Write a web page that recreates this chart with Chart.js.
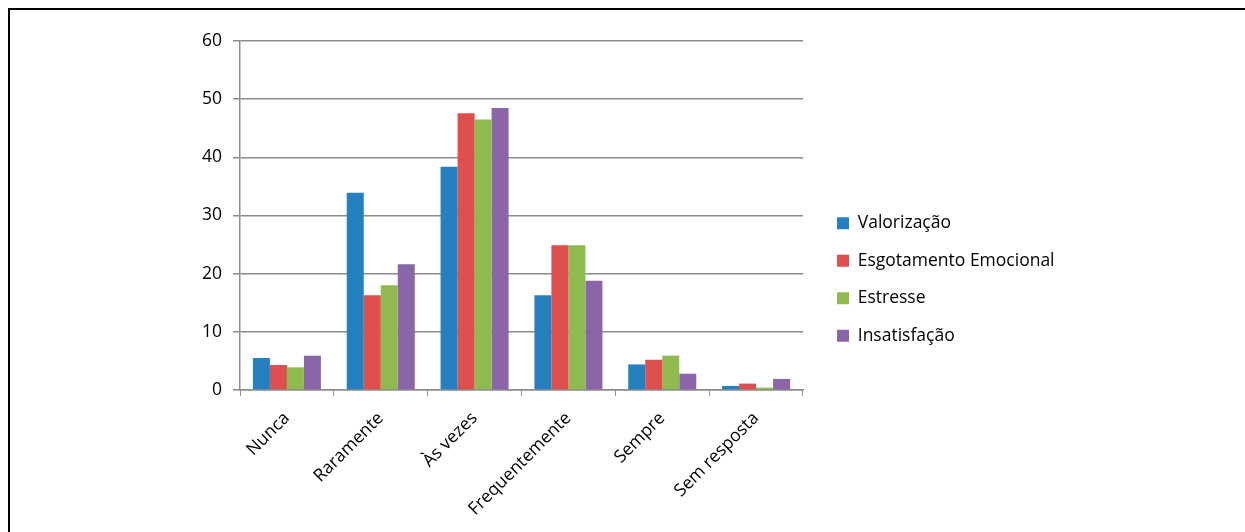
<!DOCTYPE html>
<html>
<head>
<meta charset="utf-8">
<script src="https://cdn.jsdelivr.net/npm/chart.js@4/dist/chart.umd.min.js"></script>
<style>
  html, body { margin: 0; padding: 0; background: #fff; overflow: hidden; }
  #frame { position: absolute; left: 8px; top: 8px; width: 1400px; height: 700px; border: 2px solid #000; }
  #wrap { position: absolute; left: 0; top: 0; width: 1245px; height: 532px; }
</style>
</head>
<body>
<div id="frame"></div>
<div id="wrap"><canvas id="chart" width="1245" height="532"></canvas></div>
<script>
// categories and series
const categories = ['Nunca', 'Raramente', 'Às vezes', 'Frequentemente', 'Sempre', 'Sem resposta'];
const valorizacao = [5.5, 33.9, 38.4, 16.3, 4.4, 0.7];
const esgotamento = [4.3, 16.3, 47.6, 24.9, 5.2, 1.1];
const estresse = [3.9, 18.0, 46.5, 24.9, 5.9, 0.4];
const insatisfacao = [5.9, 21.6, 48.5, 18.8, 2.8, 1.9];
const seriesNames = ['Valorização', 'Esgotamento Emocional', 'Estresse', 'Insatisfação'];
const seriesColors = ['#2580c0', '#de4f4d', '#8fbb4e', '#8a65a8'];

const FONT = "'Open Sans', 'Liberation Sans', sans-serif";
const FONT_SIZE = 17.5;

// keeps the legend in the right spot next to the plot
const legendPlacer = {
  id: 'legendPlacer',
  beforeInit(chart) {
    const legend = chart.legend;
    const fit = legend.fit;
    legend.fit = function () {
      fit.call(this);
      this.width = 442;
    };
  },
  afterLayout(chart) {
    const legend = chart.legend;
    legend.left += 14;
    legend.right += 14;
    legend.top -= 7;
    legend.bottom -= 7;
  }
};

new Chart(document.getElementById('chart'), {
  type: 'bar',
  data: {
    labels: categories,
    datasets: [valorizacao, esgotamento, estresse, insatisfacao].map((vals, i) => ({
      label: seriesNames[i],
      data: vals,
      backgroundColor: seriesColors[i],
      borderWidth: 0,
      categoryPercentage: 0.725,
      barPercentage: 1.0
    }))
  },
  options: {
    responsive: false,
    animation: false,
    devicePixelRatio: 1,
    layout: { padding: { top: 41, left: 0, right: 0, bottom: 0 } },
    plugins: {
      tooltip: { enabled: false },
      legend: {
        position: 'right',
        labels: {
          boxWidth: 12,
          boxHeight: 12,
          padding: 20,
          color: '#000',
          font: { family: FONT, size: FONT_SIZE }
        }
      }
    },
    scales: {
      x: {
        offset: true,
        grid: {
          offset: true,
          drawOnChartArea: false,
          color: '#8c8c8c',
          tickLength: 6,
          tickColor: '#8c8c8c'
        },
        border: { color: '#8c8c8c', width: 1.5 },
        ticks: {
          color: '#000',
          font: { family: FONT, size: FONT_SIZE },
          minRotation: 45,
          maxRotation: 45,
          padding: 12
        },
        afterFit(scale) {
          scale.height = 142;
          scale.paddingLeft = 0;
          scale.paddingRight = 0;
        }
      },
      y: {
        min: 0,
        max: 60,
        grid: {
          color: '#8c8c8c',
          lineWidth: 1.5,
          tickLength: 7,
          tickColor: '#8c8c8c'
        },
        border: { color: '#8c8c8c', width: 1.5 },
        ticks: {
          stepSize: 10,
          color: '#000',
          font: { family: FONT, size: FONT_SIZE },
          padding: 11
        },
        afterFit(scale) {
          scale.width = 240;
          scale.paddingTop = 0;
          scale.paddingBottom = 0;
        }
      }
    }
  },
  plugins: [legendPlacer]
});
</script>
</body>
</html>
